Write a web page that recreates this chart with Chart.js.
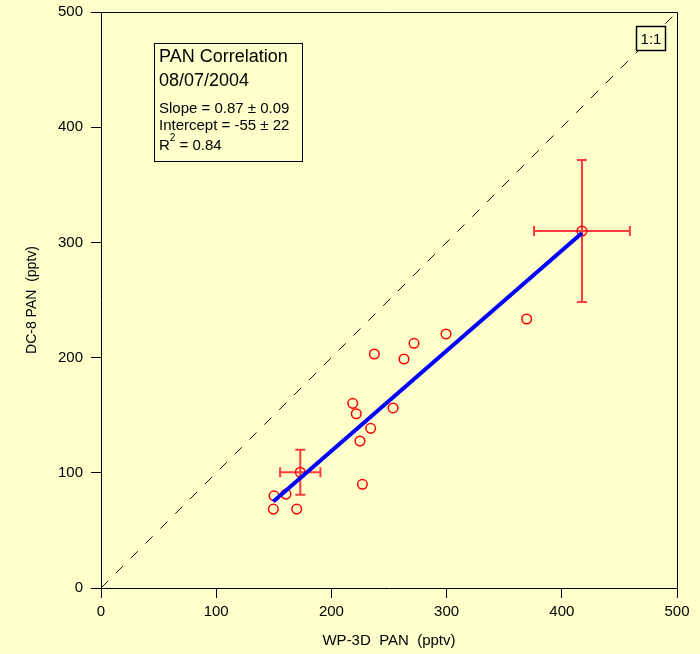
<!DOCTYPE html>
<html>
<head>
<meta charset="utf-8">
<title>PAN Correlation</title>
<script src="https://cdn.jsdelivr.net/npm/chart.js@4.4.1/dist/chart.umd.min.js"></script>
<style>
  html, body { margin: 0; padding: 0; background: #ffffcc; }
  #wrap { width: 700px; height: 654px; }
</style>
</head>
<body>
<div id="wrap"><canvas id="pan-chart" width="700" height="654"></canvas></div>
<script>
// WP-3D vs DC-8 PAN intercomparison, 08/07/2004 (pptv)
const wp3dPan = [149.6, 150.2, 160.6, 169.9, 173.0, 218.5, 221.6, 224.8, 226.9, 234.1, 237.3, 253.5, 263.0, 271.7, 299.5, 369.5, 417.5];
const dc8Pan  = [68.5, 80.0, 81.5, 68.5, 100.5, 160.3, 151.3, 127.6, 90.0, 138.6, 203.1, 156.3, 198.8, 212.4, 220.5, 233.5, 309.9];
// uncertainty, only given for two of the points
const wp3dErr = [0, 0, 0, 0, 17.5, 0, 0, 0, 0, 0, 0, 0, 0, 0, 0, 0, 41.6];
const dc8Err  = [0, 0, 0, 0, 19.5, 0, 0, 0, 0, 0, 0, 0, 0, 0, 0, 0, 61.6];

// linear fit results
const slope = 0.87;
const slopeErr = 0.09;
const intercept = -55;
const interceptErr = 22;
const rSquared = 0.84;

const axisTicks = [0, 100, 200, 300, 400, 500];
const noteTitle = ['PAN Correlation', '08/07/2004'];

const bg = '#ffffcc';
const fontFamily = '"Liberation Sans", Arial, Helvetica, sans-serif';

const points = wp3dPan.map((v, i) => ({ x: v, y: dc8Pan[i] }));
const fitX = [Math.min(...wp3dPan), Math.max(...wp3dPan)];
const fitLine = fitX.map(v => ({ x: v, y: slope * v + intercept }));
const oneToOne = [{ x: axisTicks[0], y: axisTicks[0] }, { x: axisTicks[axisTicks.length - 1], y: axisTicks[axisTicks.length - 1] }];

const backdrop = {
    id: 'backdrop',
    beforeDraw(chart) {
        const ctx = chart.ctx;
        ctx.save();
        ctx.fillStyle = bg;
        ctx.fillRect(0, 0, chart.width, chart.height);
        ctx.restore();
    }
};

const errorBars = {
    id: 'errorBars',
    beforeDatasetsDraw(chart) {
        const { ctx, scales: { x, y } } = chart;
        const cap = 5;
        ctx.save();
        ctx.strokeStyle = '#ff3b3b';
        ctx.lineWidth = 2;
        wp3dPan.forEach((xv, i) => {
            const ex = wp3dErr[i];
            const ey = dc8Err[i];
            if (!ex && !ey) return;
            const yv = dc8Pan[i];
            const px = x.getPixelForValue(xv);
            const py = y.getPixelForValue(yv);
            const x0 = x.getPixelForValue(xv - ex);
            const x1 = x.getPixelForValue(xv + ex);
            const y0 = y.getPixelForValue(yv - ey);
            const y1 = y.getPixelForValue(yv + ey);
            ctx.beginPath();
            ctx.moveTo(x0, py); ctx.lineTo(x1, py);
            ctx.moveTo(x0, py - cap); ctx.lineTo(x0, py + cap);
            ctx.moveTo(x1, py - cap); ctx.lineTo(x1, py + cap);
            ctx.moveTo(px, y0); ctx.lineTo(px, y1);
            ctx.moveTo(px - cap, y0); ctx.lineTo(px + cap, y0);
            ctx.moveTo(px - cap, y1); ctx.lineTo(px + cap, y1);
            ctx.stroke();
        });
        ctx.restore();
    }
};

const frameAndNotes = {
    id: 'frameAndNotes',
    afterDraw(chart) {
        const { ctx, chartArea: a, scales: { x, y } } = chart;
        ctx.save();

        // close the plot box on top and right
        ctx.strokeStyle = '#000';
        ctx.lineWidth = 1;
        ctx.beginPath();
        ctx.moveTo(a.left, a.top + 0.5);
        ctx.lineTo(a.right + 0.5, a.top + 0.5);
        ctx.lineTo(a.right + 0.5, a.bottom);
        ctx.stroke();

        // fit summary box
        const bx = a.left + 53, by = a.top + 31, bw = 148, bh = 118;
        ctx.fillStyle = bg;
        ctx.fillRect(bx, by, bw, bh);
        ctx.strokeRect(bx + 0.5, by + 0.5, bw, bh);
        ctx.fillStyle = '#000';
        ctx.textBaseline = 'alphabetic';
        ctx.textAlign = 'left';
        ctx.font = '18px ' + fontFamily;
        ctx.fillText(noteTitle[0], bx + 5, by + 19);
        ctx.fillText(noteTitle[1], bx + 5, by + 43);
        ctx.font = '15px ' + fontFamily;
        ctx.fillText(`Slope = ${slope.toFixed(2)} \u00b1 ${slopeErr.toFixed(2)}`, bx + 5, by + 70);
        ctx.fillText(`Intercept = ${intercept} \u00b1 ${interceptErr}`, bx + 5, by + 87);
        ctx.fillText('R', bx + 5, by + 107);
        const rw = ctx.measureText('R').width;
        ctx.font = '10px ' + fontFamily;
        ctx.fillText('2', bx + 5 + rw, by + 98);
        const sw = ctx.measureText('2').width;
        ctx.font = '15px ' + fontFamily;
        ctx.fillText(` = ${rSquared.toFixed(2)}`, bx + 5 + rw + sw, by + 107);

        // 1:1 tag sitting on the dashed line
        const cx = x.getPixelForValue(477);
        const cy = y.getPixelForValue(477);
        ctx.fillStyle = bg;
        ctx.fillRect(cx - 14, cy - 12, 29, 24);
        ctx.lineWidth = 1.5;
        ctx.strokeRect(cx - 14, cy - 12, 29, 24);
        ctx.fillStyle = '#000';
        ctx.textAlign = 'center';
        ctx.textBaseline = 'middle';
        ctx.font = '15px ' + fontFamily;
        ctx.fillText('1:1', cx + 0.5, cy + 1);

        ctx.restore();
    }
};

const axisCommon = {
    type: 'linear',
    min: axisTicks[0],
    max: axisTicks[axisTicks.length - 1],
    afterBuildTicks: scale => { scale.ticks = axisTicks.map(v => ({ value: v })); },
    grid: { drawOnChartArea: false, drawTicks: true, tickLength: 10, color: '#000', lineWidth: 1 },
    border: { display: true, color: '#000', width: 1 }
};

new Chart(document.getElementById('pan-chart'), {
    type: 'scatter',
    data: {
        datasets: [
            {
                label: 'fit',
                data: fitLine,
                showLine: true,
                borderColor: '#0000ff',
                borderWidth: 4,
                pointRadius: 0,
                order: 0
            },
            {
                label: 'PAN',
                data: points,
                pointStyle: 'circle',
                pointRadius: 4.8,
                borderColor: '#ff0000',
                borderWidth: 1.5,
                backgroundColor: 'rgba(0,0,0,0)',
                order: 1
            },
            {
                label: '1:1',
                data: oneToOne,
                showLine: true,
                borderColor: '#111111',
                borderWidth: 1,
                borderDash: [10, 11],
                pointRadius: 0,
                order: 2
            }
        ]
    },
    options: {
        responsive: false,
        animation: false,
        events: [],
        layout: { padding: { top: 12, right: 23, bottom: 0, left: 0 } },
        plugins: {
            legend: { display: false },
            tooltip: { enabled: false }
        },
        scales: {
            x: {
                ...axisCommon,
                position: 'bottom',
                afterFit: scale => {
                    scale.height = 66;
                    scale.paddingLeft = 0;
                    scale.paddingRight = 0;
                },
                ticks: { color: '#000', font: { size: 15, family: fontFamily }, padding: 5, maxRotation: 0 },
                title: { display: true, text: 'WP-3D  PAN  (pptv)', color: '#000', font: { size: 15, family: fontFamily }, padding: { top: 0, bottom: 4 } }
            },
            y: {
                ...axisCommon,
                position: 'left',
                afterFit: scale => {
                    scale.width = 101;
                    scale.paddingTop = 0;
                    scale.paddingBottom = 0;
                },
                ticks: { color: '#000', font: { size: 15, family: fontFamily }, padding: 8 },
                title: { display: true, text: 'DC-8 PAN  (pptv)', color: '#000', font: { size: 14, family: fontFamily }, padding: { top: 24, bottom: 0 } }
            }
        }
    },
    plugins: [backdrop, errorBars, frameAndNotes]
});
</script>
</body>
</html>
